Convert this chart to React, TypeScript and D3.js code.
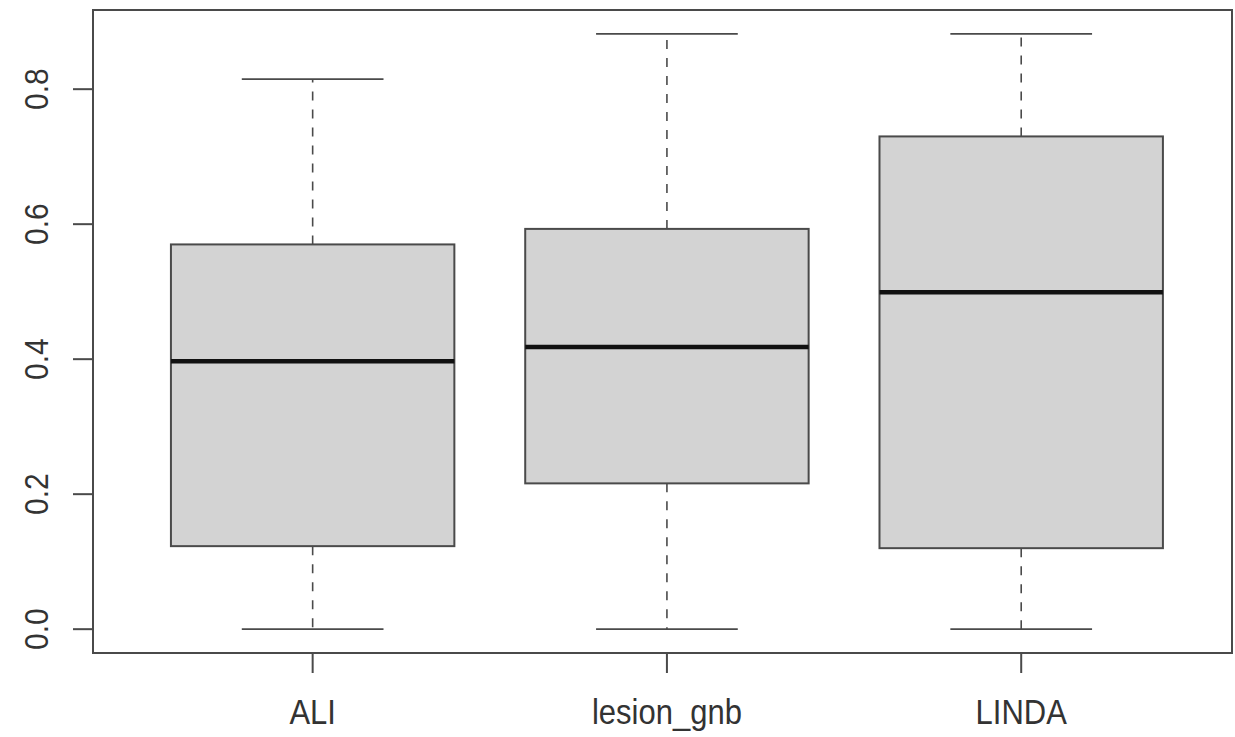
import { useEffect, useRef } from 'react'
import * as d3 from 'd3'

const categories = ['ALI', 'lesion_gnb', 'LINDA']
const whiskerLow = [0, 0, 0]
const q1 = [0.123, 0.216, 0.12]
const medians = [0.397, 0.418, 0.499]
const q3 = [0.57, 0.593, 0.73]
const whiskerHigh = [0.815, 0.882, 0.882]
const yTicks = [0, 0.2, 0.4, 0.6, 0.8]

const W = 1235
const H = 737
const margin = { left: 93, right: 3, top: 10, bottom: 84 }
const lineCol = '#4a4a4a'
const font = '"Liberation Sans", Arial, Helvetica, sans-serif'

export default function App() {
  const ref = useRef<SVGSVGElement>(null)

  useEffect(() => {
    const svg = d3.select(ref.current)
    svg.selectAll('*').remove()

    const x0 = margin.left
    const x1 = W - margin.right
    const y0 = H - margin.bottom
    const y1 = margin.top

    // R-style padding around the data range
    const x = d3.scaleLinear().domain([0.38, 3.595]).range([x0, x1])
    const y = d3.scaleLinear().domain([-0.0353, 0.9173]).range([y0, y1])

    const boxW = 0.4
    const capW = 0.2

    const g = svg.append('g')
    categories.forEach((c, i) => {
      const cx = x(i + 1)
      // whiskers
      g.append('line')
        .attr('x1', cx).attr('x2', cx)
        .attr('y1', y(q3[i])).attr('y2', y(whiskerHigh[i]))
        .attr('stroke', lineCol).attr('stroke-width', 1.6)
        .attr('stroke-dasharray', '9,9')
      g.append('line')
        .attr('x1', cx).attr('x2', cx)
        .attr('y1', y(q1[i])).attr('y2', y(whiskerLow[i]))
        .attr('stroke', lineCol).attr('stroke-width', 1.6)
        .attr('stroke-dasharray', '9,9')
      // caps
      ;[whiskerHigh[i], whiskerLow[i]].forEach(v => {
        g.append('line')
          .attr('x1', x(i + 1 - capW)).attr('x2', x(i + 1 + capW))
          .attr('y1', y(v)).attr('y2', y(v))
          .attr('stroke', lineCol).attr('stroke-width', 1.8)
      })
      // box
      g.append('rect')
        .attr('x', x(i + 1 - boxW))
        .attr('y', y(q3[i]))
        .attr('width', x(i + 1 + boxW) - x(i + 1 - boxW))
        .attr('height', y(q1[i]) - y(q3[i]))
        .attr('fill', '#d3d3d3')
        .attr('stroke', lineCol).attr('stroke-width', 2)
      // median
      g.append('line')
        .attr('x1', x(i + 1 - boxW)).attr('x2', x(i + 1 + boxW))
        .attr('y1', y(medians[i])).attr('y2', y(medians[i]))
        .attr('stroke', '#111').attr('stroke-width', 4.5)
    })

    // frame
    svg.append('rect')
      .attr('x', x0).attr('y', y1)
      .attr('width', x1 - x0).attr('height', y0 - y1)
      .attr('fill', 'none').attr('stroke', lineCol).attr('stroke-width', 2)

    // y axis
    const yAxis = svg.append('g')
    yTicks.forEach(t => {
      yAxis.append('line')
        .attr('x1', x0).attr('x2', x0 - 20)
        .attr('y1', y(t)).attr('y2', y(t))
        .attr('stroke', lineCol).attr('stroke-width', 2)
      yAxis.append('text')
        .attr('transform', `translate(${x0 - 45},${y(t)}) rotate(-90) scale(1,1.08)`)
        .attr('text-anchor', 'middle')
        .attr('font-family', font)
        .attr('font-size', 30)
        .attr('fill', '#333')
        .text(d3.format('.1f')(t))
    })

    // x axis
    const xAxis = svg.append('g')
    categories.forEach((c, i) => {
      xAxis.append('line')
        .attr('x1', x(i + 1)).attr('x2', x(i + 1))
        .attr('y1', y0).attr('y2', y0 + 20)
        .attr('stroke', lineCol).attr('stroke-width', 2)
      xAxis.append('text')
        .attr('transform', `translate(${x(i + 1)},${y0 + 71}) scale(1,1.12)`)
        .attr('text-anchor', 'middle')
        .attr('font-family', font)
        .attr('font-size', 31)
        .attr('fill', '#333')
        .text(c)
    })
  }, [])

  return (
    <svg ref={ref} width={W} height={H}
      style={{ position: 'absolute', left: 0, top: 0, background: '#fff' }} />
  )
}
